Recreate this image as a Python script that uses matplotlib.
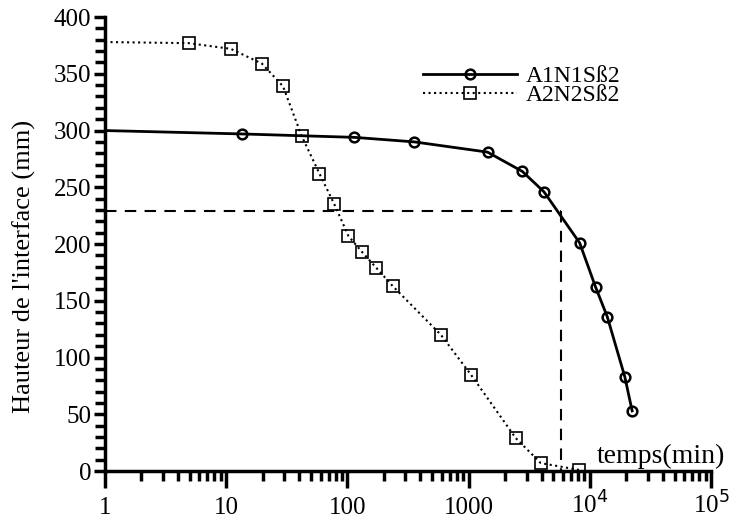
import numpy as np
import matplotlib.pyplot as plt
from matplotlib.ticker import FixedLocator, LogLocator, NullFormatter

plt.rcParams['font.family'] = ['Liberation Serif', 'DejaVu Serif']

# A1N1Sß2 (circles), first point = start of curve at t=1 (no marker)
t_a1 = [1, 13.6, 114, 356, 1430, 2770, 4180, 8230, 11140, 13900, 19400, 22300]
h_a1 = [300, 297, 294, 290, 281, 264, 246, 201, 162, 136, 83, 53]

# A2N2Sß2 (squares)
t_a2 = [1, 4.9, 10.9, 19.7, 29.4, 42, 58.8, 78, 102, 132, 173, 236, 590, 1042, 2445, 3930, 8120]
h_a2 = [378, 377, 372, 359, 339, 295, 262, 235, 207, 193, 179, 163, 120, 85, 29, 7, 1]

# dashed reading lines
h_ref = 229
t_ref = 5740

fig = plt.figure(figsize=(7.33, 5.2), dpi=100)
ax = fig.add_axes([0.1432, 0.0942, 0.827, 0.873])

ax.plot(t_a1, h_a1, '-', color='black', lw=2, marker='o', ms=7, mfc='none',
        mew=1.8, markevery=list(range(1, len(t_a1))), label='A1N1Sß2')
ax.plot(t_a2, h_a2, ':', color='black', lw=1.5, marker='s', ms=8, mfc='none',
        mew=1.2, markevery=list(range(1, len(t_a2))), label='A2N2Sß2')

ax.plot([1, t_ref], [h_ref, h_ref], color='black', lw=1.5, dashes=(5.5, 4))
ax.plot([t_ref, t_ref], [h_ref, 0], color='black', lw=1.5, dashes=(5.5, 4))

ax.set_xscale('log')
ax.set_xlim(1, 1e5)
ax.set_ylim(0, 400)

ax.spines['top'].set_visible(False)
ax.spines['right'].set_visible(False)
ax.spines['left'].set_linewidth(2.5)
ax.spines['bottom'].set_linewidth(2.5)

ax.set_xticks([1, 10, 100, 1000, 1e4, 1e5])
ax.set_xticklabels(['1', '10', '100', '1000', '10$^{4}$', '10$^{5}$'], va='baseline')
ax.xaxis.set_minor_locator(LogLocator(base=10, subs=np.arange(2, 10)))
ax.xaxis.set_minor_formatter(NullFormatter())
ax.set_yticks(np.arange(0, 401, 50))
ax.yaxis.set_minor_locator(FixedLocator(np.arange(0, 401, 10)))

ax.tick_params(axis='x', which='major', direction='out', length=12, width=2.5, labelsize=18, pad=19)
ax.tick_params(axis='x', which='minor', direction='out', length=7, width=2.5)
ax.tick_params(axis='y', which='major', direction='out', length=8, width=2.5, labelsize=18, pad=2)
ax.tick_params(axis='y', which='minor', direction='out', length=7, width=2.5)

ax.set_ylabel("Hauteur de l'interface (mm)", fontsize=19)
ax.yaxis.set_label_coords(-0.113, 0.45)
ax.text(1.023, 0.004, 'temps(min)', transform=ax.transAxes, ha='right', va='bottom', fontsize=20)

ax.legend(loc='upper left', bbox_to_anchor=(0.577, 0.874), bbox_transform=fig.transFigure,
          frameon=False, fontsize=17, handlelength=4.0, handletextpad=0.35,
          labelspacing=-0.1, borderpad=0, borderaxespad=0)

fig.savefig('out.png', dpi=100)
